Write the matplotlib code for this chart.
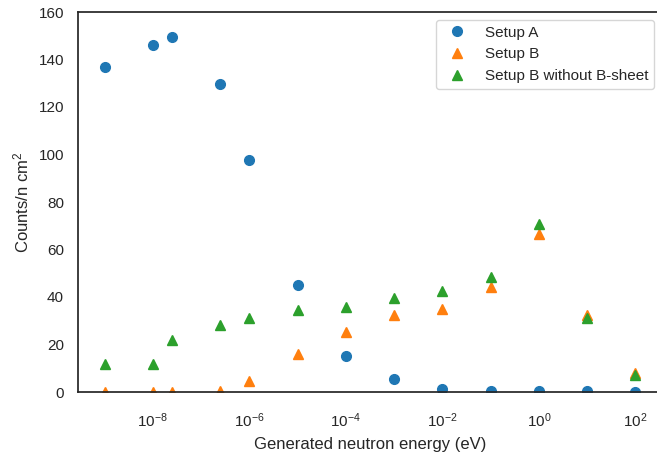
import matplotlib
matplotlib.use("Agg")
import matplotlib.pyplot as plt
import seaborn as sns
import numpy as np

sns.set_theme(style="white")
plt.rcParams['font.family'] = ['Liberation Sans', 'DejaVu Sans']
plt.rcParams['mathtext.fontset'] = 'custom'
plt.rcParams['mathtext.rm'] = 'Liberation Sans'
plt.rcParams['mathtext.it'] = 'Liberation Sans:italic'
plt.rcParams['mathtext.bf'] = 'Liberation Sans:bold'

# generated neutron energies (eV)
energy = [1e-9, 1e-8, 2.5e-8, 2.5e-7, 1e-6, 1e-5, 1e-4, 1e-3, 1e-2, 1e-1, 1, 10, 100]

setup_a = [137, 146.2, 149.5, 129.5, 97.5, 45, 15.3, 5.6, 1.4, 0.4, 0.3, 0.3, 0.2]
setup_b = [0, 0, 0, 0.6, 4.8, 15.9, 25.1, 32.4, 34.9, 44.3, 66.7, 32.6, 7.8]
setup_b_no_sheet = [11.7, 11.7, 21.9, 28.1, 31.3, 34.5, 35.7, 39.4, 42.5, 48.3, 70.7, 31.0, 7.2]

fig = plt.figure(figsize=(6.57, 4.53), dpi=100)
ax = fig.add_axes([78/657, 61/453, 584/657, 380/453])

ax.plot(energy, setup_a, 'o', color='#1f77b4', markersize=7, label='Setup A')
ax.plot(energy, setup_b, '^', color='#ff7f0e', markersize=7, label='Setup B')
ax.plot(energy, setup_b_no_sheet, '^', color='#2ca02c', markersize=7, label='Setup B without B-sheet')

ax.set_xscale('log')
ax.set_xticks([1e-8, 1e-6, 1e-4, 1e-2, 1e0, 1e2])
ax.minorticks_off()
ax.set_ylim(0, 160)
ax.tick_params(axis='x', pad=8)
ax.tick_params(axis='y', pad=4)
ax.set_xlabel('Generated neutron energy (eV)', labelpad=5)
ax.set_ylabel('Counts/n cm$^2$', labelpad=5)

for s in ax.spines.values():
    s.set_color('.15')
ax.spines['right'].set_visible(False)

ax.legend(loc='upper right')

fig.savefig('out.png', dpi=100)
